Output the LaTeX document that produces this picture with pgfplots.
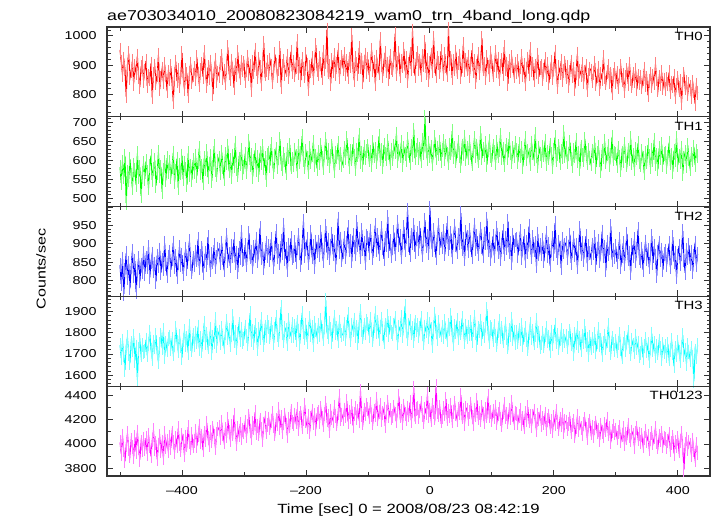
\documentclass[border=0pt]{standalone}
\usepackage{fontspec}
\setmainfont{Liberation Sans}[FakeStretch=1.25]
\usepackage{pgfplots}
\usepackage{pgfplotstable}
\pgfplotsset{compat=1.18}
\definecolor{cR}{RGB}{255,0,0}
\definecolor{cG}{RGB}{0,255,0}
\definecolor{cB}{RGB}{0,0,255}
\definecolor{cC}{RGB}{0,255,255}
\definecolor{cM}{RGB}{255,0,255}
\newcommand{\tfont}{\fontsize{11.5}{13}\selectfont}
\newcommand{\lfont}{\fontsize{12}{14}\selectfont}

% TH0, 2 s bins from -500 to 432
\pgfplotstableread[row sep=\\, header=false]{
952\\911\\868\\923\\887\\794\\902\\941\\856\\879\\915\\838\\897\\874\\932\\861\\826\\893\\908\\847\\
882\\915\\829\\864\\853\\906\\791\\872\\898\\841\\867\\935\\818\\856\\889\\842\\903\\866\\812\\877\\
853\\897\\838\\776\\871\\912\\846\\884\\829\\861\\942\\857\\818\\883\\869\\795\\874\\906\\843\\866\\
891\\852\\927\\869\\834\\884\\903\\861\\945\\876\\829\\893\\858\\912\\872\\801\\887\\919\\848\\875\\
864\\908\\931\\857\\882\\839\\897\\961\\874\\852\\916\\889\\823\\901\\868\\944\\879\\856\\912\\885\\
907\\848\\883\\929\\871\\896\\816\\912\\878\\953\\887\\861\\921\\894\\838\\903\\976\\869\\885\\911\\
873\\918\\896\\842\\881\\937\\902\\864\\889\\958\\826\\897\\913\\871\\884\\932\\859\\903\\946\\878\\
912\\867\\893\\981\\874\\906\\849\\921\\888\\863\\937\\902\\818\\894\\879\\926\\857\\911\\968\\884\\
871\\924\\903\\857\\946\\889\\912\\1021\\876\\898\\838\\917\\882\\934\\869\\905\\952\\861\\893\\927\\
889\\938\\872\\914\\861\\923\\897\\1003\\884\\849\\926\\905\\871\\959\\893\\918\\842\\911\\936\\878\\
921\\867\\904\\952\\883\\912\\836\\929\\897\\874\\988\\902\\863\\917\\941\\879\\906\\853\\933\\891\\
884\\926\\1007\\871\\908\\943\\862\\915\\897\\956\\879\\924\\848\\903\\937\\886\\1018\\899\\865\\921\\
942\\889\\913\\866\\931\\902\\979\\874\\918\\851\\907\\936\\882\\994\\897\\863\\925\\909\\876\\948\\
911\\872\\938\\897\\866\\1024\\903\\925\\857\\914\\889\\946\\878\\907\\933\\861\\898\\971\\884\\919\\
887\\929\\864\\906\\951\\879\\913\\842\\898\\937\\873\\915\\992\\886\\904\\858\\927\\893\\868\\941\\
912\\868\\901\\944\\879\\923\\853\\896\\917\\871\\962\\889\\906\\837\\914\\881\\928\\897\\862\\905\\
876\\914\\859\\893\\931\\867\\902\\838\\889\\923\\871\\954\\884\\906\\849\\897\\878\\936\\861\\892\\
897\\852\\884\\921\\866\\903\\839\\878\\912\\857\\889\\946\\871\\826\\893\\874\\915\\851\\882\\908\\
859\\893\\831\\877\\912\\864\\886\\821\\874\\939\\853\\882\\867\\904\\842\\876\\897\\815\\868\\889\\
882\\847\\873\\908\\836\\862\\891\\818\\869\\854\\927\\861\\839\\878\\896\\843\\871\\805\\866\\887\\
843\\874\\826\\862\\897\\851\\868\\812\\859\\883\\837\\906\\854\\829\\871\\847\\884\\818\\862\\839\\
861\\826\\853\\889\\834\\857\\798\\846\\872\\829\\864\\841\\903\\852\\816\\859\\838\\877\\823\\851\\
819\\852\\837\\876\\808\\841\\829\\863\\792\\834\\857\\815\\846\\773\\838\\869\\822\\843\\801\\836\\
827\\791\\843\\812\\769\\834\\806\\
}\thzero

% TH1
\pgfplotstableread[row sep=\\, header=false]{
583\\541\\597\\556\\612\\488\\571\\549\\604\\563\\528\\589\\574\\536\\619\\558\\582\\507\\566\\593\\
552\\598\\571\\527\\586\\613\\549\\578\\601\\534\\567\\622\\559\\583\\518\\576\\595\\548\\606\\571\\
596\\557\\583\\621\\544\\572\\605\\528\\589\\567\\613\\551\\594\\578\\536\\619\\563\\587\\549\\601\\
571\\612\\559\\596\\633\\568\\585\\541\\607\\579\\624\\556\\592\\611\\547\\583\\638\\574\\562\\598\\
608\\567\\623\\584\\551\\617\\593\\639\\572\\601\\558\\613\\586\\647\\579\\562\\604\\591\\629\\566\\
582\\618\\571\\603\\652\\589\\614\\557\\598\\627\\576\\609\\563\\621\\594\\638\\581\\606\\549\\615\\
621\\587\\643\\598\\569\\612\\631\\584\\607\\656\\592\\578\\618\\601\\566\\627\\609\\641\\583\\604\\
589\\627\\611\\572\\638\\596\\619\\664\\601\\583\\624\\608\\571\\633\\597\\615\\649\\588\\612\\579\\
623\\594\\641\\608\\581\\619\\657\\603\\627\\586\\612\\638\\598\\572\\621\\609\\646\\594\\617\\588\\
598\\632\\606\\659\\617\\584\\626\\603\\643\\611\\579\\628\\614\\668\\597\\621\\589\\636\\607\\625\\
637\\601\\623\\589\\648\\612\\631\\596\\619\\664\\605\\627\\584\\641\\616\\603\\652\\621\\593\\629\\
604\\639\\622\\671\\598\\626\\611\\648\\589\\633\\617\\602\\657\\624\\594\\638\\615\\681\\606\\629\\
642\\607\\631\\598\\654\\619\\715\\626\\603\\647\\612\\636\\591\\623\\661\\608\\634\\617\\649\\599\\
628\\651\\604\\637\\616\\593\\642\\621\\677\\609\\633\\598\\625\\648\\612\\587\\639\\618\\663\\604\\
633\\607\\648\\619\\591\\626\\659\\612\\637\\598\\621\\673\\606\\631\\614\\645\\589\\627\\652\\611\\
601\\638\\622\\594\\649\\613\\628\\667\\607\\631\\589\\624\\641\\608\\656\\619\\597\\633\\612\\645\\
627\\596\\643\\611\\632\\584\\619\\658\\603\\626\\614\\592\\647\\621\\605\\669\\611\\587\\634\\618\\
599\\636\\614\\652\\591\\623\\607\\641\\618\\583\\629\\661\\602\\617\\638\\594\\624\\609\\676\\613\\
632\\597\\618\\648\\604\\586\\627\\611\\653\\598\\621\\579\\636\\614\\602\\657\\619\\593\\628\\606\\
591\\626\\612\\647\\583\\619\\635\\601\\572\\624\\609\\651\\596\\617\\638\\588\\614\\662\\603\\621\\
618\\587\\632\\609\\574\\621\\598\\643\\612\\589\\627\\604\\658\\593\\615\\579\\631\\608\\646\\597\\
588\\624\\607\\566\\619\\596\\641\\611\\583\\628\\602\\654\\591\\614\\577\\632\\606\\643\\589\\616\\
621\\584\\609\\647\\593\\614\\571\\626\\602\\659\\588\\613\\597\\634\\565\\608\\622\\586\\641\\603\\
579\\617\\602\\636\\588\\624\\611\\
}\thone

% TH2
\pgfplotstableread[row sep=\\, header=false]{
842\\791\\859\\763\\828\\874\\806\\847\\779\\836\\881\\812\\853\\769\\827\\861\\798\\843\\822\\876\\
818\\862\\837\\891\\809\\851\\873\\826\\846\\797\\868\\839\\884\\821\\857\\832\\902\\846\\813\\865\\
877\\829\\858\\903\\836\\866\\811\\849\\891\\842\\869\\818\\856\\887\\831\\872\\907\\846\\824\\861\\
841\\879\\856\\912\\834\\867\\889\\821\\854\\876\\843\\918\\862\\829\\871\\851\\896\\838\\864\\887\\
882\\847\\903\\861\\828\\879\\924\\853\\871\\839\\894\\866\\912\\848\\876\\823\\889\\861\\932\\857\\
859\\896\\841\\884\\929\\863\\877\\836\\891\\868\\914\\852\\879\\943\\861\\887\\833\\874\\902\\866\\
893\\856\\912\\871\\838\\889\\934\\864\\881\\847\\907\\876\\952\\859\\886\\829\\898\\872\\915\\861\\
867\\904\\851\\889\\923\\874\\843\\897\\961\\868\\886\\912\\849\\878\\931\\863\\894\\838\\906\\881\\
906\\869\\932\\884\\853\\897\\948\\876\\911\\862\\893\\927\\871\\904\\843\\889\\968\\879\\914\\857\\
879\\916\\863\\901\\945\\884\\907\\852\\923\\891\\871\\959\\897\\912\\864\\938\\886\\903\\847\\921\\
917\\876\\936\\894\\862\\909\\951\\883\\924\\871\\903\\942\\889\\859\\916\\898\\973\\881\\908\\867\\
889\\931\\872\\915\\958\\896\\921\\864\\907\\946\\883\\918\\992\\897\\869\\925\\903\\951\\878\\912\\
928\\887\\943\\902\\869\\916\\964\\893\\921\\876\\998\\909\\884\\937\\897\\862\\919\\951\\889\\913\\
892\\934\\871\\911\\956\\887\\903\\928\\864\\917\\949\\896\\879\\924\\901\\983\\886\\912\\858\\931\\
918\\881\\937\\896\\864\\909\\952\\887\\921\\873\\906\\941\\892\\868\\927\\903\\968\\884\\912\\859\\
884\\921\\867\\906\\943\\879\\912\\858\\897\\936\\872\\915\\889\\961\\877\\902\\848\\924\\893\\911\\
912\\868\\899\\934\\861\\887\\921\\853\\906\\879\\947\\891\\864\\918\\883\\902\\839\\927\\872\\896\\
871\\909\\852\\893\\928\\866\\899\\841\\884\\917\\873\\956\\881\\862\\906\\889\\834\\912\\877\\898\\
903\\862\\891\\925\\848\\881\\916\\869\\897\\836\\889\\942\\871\\903\\857\\884\\921\\846\\893\\874\\
861\\898\\874\\919\\843\\886\\907\\852\\879\\933\\866\\891\\828\\904\\871\\889\\947\\857\\882\\864\\
893\\851\\879\\912\\838\\867\\901\\846\\884\\927\\859\\874\\821\\896\\868\\913\\852\\887\\939\\862\\
854\\887\\829\\874\\906\\858\\882\\836\\871\\921\\848\\893\\866\\812\\879\\903\\857\\884\\829\\872\\
881\\843\\869\\901\\837\\862\\918\\851\\876\\809\\868\\894\\846\\873\\935\\856\\821\\883\\862\\897\\
846\\879\\824\\868\\903\\841\\872\\
}\thtwo

% TH3
\pgfplotstableread[row sep=\\, header=false]{
1742\\1681\\1763\\1697\\1624\\1738\\1779\\1702\\1656\\1751\\1718\\1784\\1669\\1735\\1577\\1722\\1768\\1694\\1741\\1708\\
1712\\1768\\1693\\1749\\1806\\1721\\1677\\1758\\1732\\1789\\1704\\1663\\1746\\1791\\1728\\1812\\1687\\1754\\1719\\1773\\
1781\\1726\\1769\\1698\\1742\\1824\\1757\\1713\\1786\\1739\\1683\\1765\\1809\\1741\\1776\\1707\\1834\\1748\\1721\\1792\\
1743\\1801\\1757\\1829\\1724\\1776\\1712\\1788\\1847\\1752\\1794\\1731\\1769\\1816\\1703\\1781\\1756\\1863\\1739\\1792\\
1806\\1751\\1823\\1769\\1734\\1798\\1857\\1776\\1812\\1743\\1789\\1878\\1761\\1803\\1727\\1794\\1841\\1768\\1819\\1756\\
1771\\1829\\1784\\1746\\1812\\1893\\1768\\1807\\1752\\1836\\1791\\1724\\1818\\1776\\1864\\1799\\1743\\1826\\1787\\1851\\
1827\\1779\\1843\\1806\\1752\\1819\\1874\\1791\\1768\\1836\\1921\\1798\\1761\\1824\\1812\\1746\\1859\\1803\\1784\\1841\\
1786\\1832\\1767\\1853\\1811\\1749\\1828\\1894\\1803\\1776\\1839\\1758\\1816\\1868\\1792\\1827\\1743\\1846\\1812\\1781\\
1838\\1792\\1861\\1807\\1769\\1829\\1953\\1803\\1782\\1847\\1816\\1758\\1834\\1876\\1797\\1824\\1761\\1853\\1809\\1789\\
1796\\1843\\1772\\1828\\1887\\1809\\1764\\1839\\1815\\1862\\1787\\1826\\1751\\1848\\1903\\1812\\1779\\1836\\1797\\1858\\
1841\\1787\\1865\\1813\\1768\\1832\\1894\\1806\\1851\\1773\\1829\\1867\\1796\\1758\\1838\\1815\\1879\\1792\\1846\\1803\\
1793\\1837\\1869\\1801\\1752\\1826\\1812\\1874\\1783\\1841\\1927\\1808\\1769\\1835\\1856\\1797\\1822\\1761\\1849\\1814\\
1838\\1784\\1822\\1871\\1796\\1752\\1829\\1807\\1864\\1779\\1843\\1818\\1736\\1826\\1891\\1803\\1772\\1849\\1811\\1788\\
1826\\1779\\1854\\1803\\1768\\1837\\1816\\1882\\1791\\1749\\1831\\1806\\1859\\1774\\1823\\1797\\1868\\1812\\1757\\1834\\
1781\\1829\\1793\\1851\\1762\\1814\\1876\\1797\\1743\\1823\\1809\\1858\\1771\\1816\\1786\\1839\\1912\\1798\\1757\\1826\\
1817\\1768\\1831\\1783\\1742\\1809\\1856\\1779\\1823\\1761\\1798\\1843\\1776\\1734\\1812\\1789\\1867\\1772\\1806\\1753\\
1806\\1759\\1814\\1771\\1836\\1743\\1792\\1821\\1767\\1724\\1798\\1843\\1776\\1809\\1751\\1788\\1859\\1762\\1797\\1734\\
1752\\1797\\1736\\1789\\1823\\1761\\1778\\1714\\1806\\1747\\1783\\1839\\1758\\1792\\1729\\1771\\1812\\1743\\1786\\1762\\
1784\\1731\\1776\\1809\\1748\\1767\\1702\\1793\\1752\\1821\\1739\\1774\\1718\\1786\\1757\\1832\\1743\\1769\\1696\\1781\\
1727\\1772\\1738\\1794\\1711\\1759\\1816\\1743\\1768\\1694\\1753\\1787\\1729\\1762\\1835\\1741\\1706\\1774\\1749\\1721\\
1762\\1714\\1751\\1793\\1726\\1684\\1748\\1776\\1719\\1757\\1803\\1731\\1698\\1764\\1742\\1709\\1787\\1728\\1753\\1692\\
1707\\1749\\1683\\1738\\1772\\1714\\1745\\1669\\1729\\1796\\1718\\1751\\1692\\1737\\1704\\1763\\1728\\1678\\1745\\1711\\
1736\\1691\\1748\\1677\\1719\\1765\\1703\\1642\\1727\\1694\\1756\\1711\\1668\\1733\\1789\\1696\\1721\\1654\\1742\\1708\\
1673\\1729\\1687\\1571\\1716\\1684\\1741\\
}\ththree

% TH0123
\pgfplotstableread[row sep=\\, header=false]{
4012\\3921\\4068\\3947\\3856\\3993\\4087\\3962\\3904\\4031\\3978\\3889\\4056\\3937\\4102\\3968\\3871\\4014\\3952\\4043\\
3962\\4048\\3917\\4073\\3986\\3898\\4031\\4112\\3959\\4007\\3873\\3991\\4064\\3942\\4019\\3881\\4086\\3973\\4025\\3938\\
4057\\3968\\4093\\4012\\3934\\4046\\3987\\4128\\4003\\3951\\4072\\4024\\3906\\4061\\3992\\4137\\4018\\3963\\4081\\3979\\
4028\\4103\\3982\\4074\\4151\\4013\\4062\\3947\\4089\\4036\\4172\\4048\\3991\\4097\\4021\\4134\\4067\\3963\\4082\\4119\\
4136\\4052\\4178\\4083\\4014\\4121\\4062\\4203\\4097\\4031\\4147\\4078\\4239\\4106\\3996\\4128\\4071\\4164\\4048\\4112\\
4102\\4183\\4064\\4151\\4227\\4109\\4047\\4172\\4128\\4261\\4093\\4146\\4082\\4198\\4121\\4033\\4167\\4214\\4098\\4156\\
4208\\4127\\4189\\4253\\4146\\4082\\4196\\4161\\4287\\4133\\4219\\4102\\4176\\4241\\4158\\4067\\4203\\4147\\4268\\4181\\
4163\\4241\\4178\\4286\\4119\\4217\\4253\\4136\\4204\\4323\\4187\\4142\\4228\\4096\\4211\\4272\\4169\\4238\\4121\\4249\\
4259\\4181\\4297\\4213\\4152\\4246\\4338\\4197\\4233\\4108\\4271\\4216\\4189\\4304\\4227\\4163\\4258\\4391\\4202\\4241\\
4207\\4283\\4229\\4351\\4184\\4262\\4218\\4309\\4151\\4247\\4296\\4213\\4268\\4192\\4437\\4234\\4172\\4281\\4246\\4319\\
4288\\4219\\4327\\4241\\4176\\4274\\4236\\4372\\4203\\4261\\4318\\4197\\4253\\4289\\4148\\4266\\4341\\4228\\4279\\4214\\
4231\\4302\\4247\\4186\\4283\\4392\\4226\\4268\\4173\\4314\\4249\\4207\\4296\\4238\\4341\\4192\\4271\\4463\\4224\\4286\\
4297\\4218\\4273\\4336\\4241\\4179\\4288\\4252\\4407\\4226\\4283\\4197\\4319\\4259\\4211\\4474\\4264\\4238\\4302\\4185\\
4221\\4294\\4243\\4368\\4206\\4271\\4231\\4318\\4187\\4263\\4339\\4246\\4198\\4287\\4252\\4402\\4219\\4276\\4168\\4298\\
4283\\4207\\4262\\4331\\4219\\4167\\4276\\4238\\4359\\4213\\4254\\4196\\4301\\4243\\4178\\4287\\4231\\4392\\4226\\4262\\
4198\\4267\\4221\\4304\\4173\\4246\\4289\\4207\\4158\\4262\\4326\\4219\\4243\\4184\\4278\\4212\\4347\\4236\\4169\\4258\\
4243\\4176\\4229\\4281\\4163\\4217\\4136\\4254\\4198\\4302\\4187\\4231\\4148\\4226\\4271\\4192\\4113\\4238\\4204\\4259\\
4154\\4213\\4171\\4248\\4126\\4196\\4232\\4139\\4187\\4103\\4221\\4164\\4271\\4178\\4122\\4206\\4153\\4239\\4094\\4187\\
4183\\4121\\4168\\4209\\4097\\4156\\4188\\4062\\4141\\4227\\4113\\4172\\4131\\4084\\4164\\4203\\4126\\4047\\4159\\4188\\
4087\\4142\\4063\\4129\\4176\\4094\\4118\\4031\\4153\\4102\\4068\\4161\\4117\\4206\\4079\\4133\\4014\\4108\\4147\\4089\\
4113\\4052\\4096\\4138\\4021\\4073\\4127\\3996\\4081\\4049\\4154\\4067\\4032\\4102\\4076\\3978\\4091\\4128\\4043\\4085\\
4017\\4072\\3984\\4051\\4109\\4026\\4063\\3958\\4037\\4088\\4004\\4053\\4131\\4019\\3971\\4066\\4032\\4093\\3987\\4048\\
4039\\3973\\4021\\4078\\3952\\4006\\4057\\3921\\4013\\3984\\4046\\3938\\4028\\4091\\3967\\3789\\4002\\4041\\3956\\4017\\
3991\\3912\\4033\\3947\\3868\\3998\\3929\\
}\thall

\pgfplotsset{
  panel/.style={
    scale only axis, width=603bp, height=89.8bp,
    anchor=north west,
    xmin=-521, xmax=452,
    xtick={-400,-200,...,400},
    minor xtick={-500,-300,-100,100,300},
    xticklabels={},
    tick align=inside,
    major tick length=6bp, minor tick length=3.5bp,
    axis line style={line width=1.1bp, black!80},
    every tick/.style={black!80, line width=0.8bp},
    tick label style={font=\tfont},
    /pgf/number format/assume math mode=true,
    /pgf/number format/1000 sep={},
    yticklabel style={xshift=-7bp},
    xticklabel style={yshift=-7bp},
  },
  ebar/.style={only marks, mark=|, mark size=7bp, forget plot,
    mark options={line width=1bp}},
  dline/.style={line width=1bp, mark=none},
}

\begin{document}
\begin{tikzpicture}
\useasboundingbox (-107bp,27bp) rectangle (610bp,-489bp);

\begin{axis}[panel, at={(0bp,0bp)}, ymin=725, ymax=1030,
  ytick={800,900,1000}, minor ytick={720,740,...,1040}]
\addplot[ebar, cR!50] table[x expr={-500+2*\coordindex}, y index=0] {\thzero};
\addplot[dline, cR] table[x expr={-500+2*\coordindex}, y index=0] {\thzero};
\node[anchor=north east, inner sep=0pt, font=\lfont, xshift=-7bp, yshift=-5bp] at (rel axis cs:1,1) {TH0};
\end{axis}

\begin{axis}[panel, at={(0bp,-89.8bp)}, ymin=479, ymax=715,
  ytick={500,550,...,700}, minor ytick={480,490,...,710}]
\addplot[ebar, cG!50] table[x expr={-500+2*\coordindex}, y index=0] {\thone};
\addplot[dline, cG] table[x expr={-500+2*\coordindex}, y index=0] {\thone};
\node[anchor=north east, inner sep=0pt, font=\lfont, xshift=-7bp, yshift=-5bp] at (rel axis cs:1,1) {TH1};
\end{axis}

\begin{axis}[panel, at={(0bp,-179.6bp)}, ymin=757, ymax=1001,
  ytick={800,850,900,950,1000}, yticklabels={800,850,900,950,},
  minor ytick={760,770,...,1000}]
\addplot[ebar, cB!50] table[x expr={-500+2*\coordindex}, y index=0] {\thtwo};
\addplot[dline, cB] table[x expr={-500+2*\coordindex}, y index=0] {\thtwo};
\node[anchor=north east, inner sep=0pt, font=\lfont, xshift=-7bp, yshift=-5bp] at (rel axis cs:1,1) {TH2};
\end{axis}

\begin{axis}[panel, at={(0bp,-269.4bp)}, ymin=1548, ymax=1972,
  ytick={1600,1700,1800,1900}, minor ytick={1560,1580,...,1960}]
\addplot[ebar, cC!50] table[x expr={-500+2*\coordindex}, y index=0] {\ththree};
\addplot[dline, cC] table[x expr={-500+2*\coordindex}, y index=0] {\ththree};
\node[anchor=north east, inner sep=0pt, font=\lfont, xshift=-7bp, yshift=-5bp] at (rel axis cs:1,1) {TH3};
\end{axis}

\begin{axis}[panel, at={(0bp,-359.2bp)}, ymin=3736, ymax=4475,
  ytick={3800,4000,4200,4400}, minor ytick={3800,3900,...,4400},
  xticklabels={\textendash400,\textendash200,0,200,400}]
\addplot[ebar, cM!50] table[x expr={-500+2*\coordindex}, y index=0] {\thall};
\addplot[dline, cM] table[x expr={-500+2*\coordindex}, y index=0] {\thall};
\node[anchor=north east, inner sep=0pt, font=\lfont, xshift=-7bp, yshift=-5bp] at (rel axis cs:1,1) {TH0123};
\end{axis}

\node[anchor=base west, inner sep=0pt, font=\fontsize{14.3}{16}\selectfont] at (0bp,7bp)
  {ae703034010\_20080823084219\_wam0\_trn\_4band\_long.qdp};
\node[anchor=base, inner sep=0pt, font=\fontsize{13.4}{15}\selectfont] at (301.5bp,-486bp)
  {Time [sec] 0 = 2008/08/23 08:42:19};
\node[rotate=90, anchor=center, inner sep=0pt, font=\fontsize{12.9}{15}\selectfont] at (-66bp,-242bp) {Counts/sec};
\end{tikzpicture}
\end{document}
